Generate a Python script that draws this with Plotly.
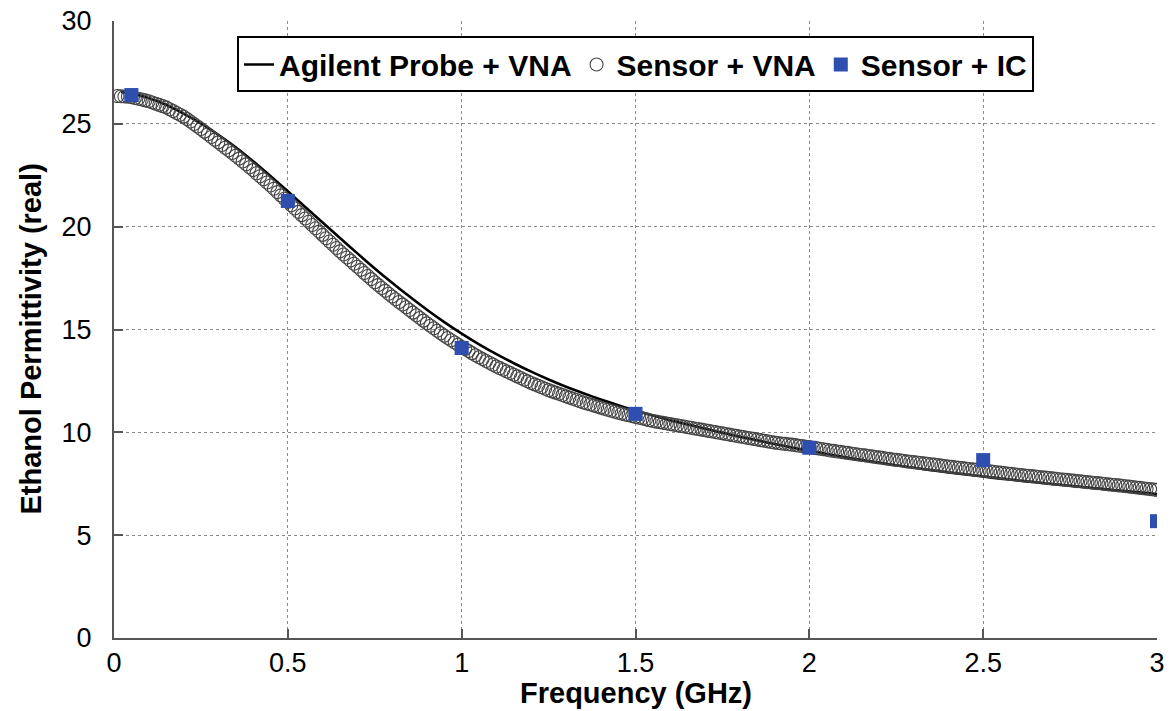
import numpy as np
import plotly.graph_objects as go

# ---------------- data ----------------
# Agilent probe + VNA (reference curve)
agilent_freq = [0.02, 0.05, 0.10, 0.15, 0.20, 0.25, 0.30, 0.35, 0.40, 0.45,
                0.50, 0.55, 0.60, 0.65, 0.70, 0.75, 0.80, 0.85, 0.90, 0.95,
                1.00, 1.05, 1.10, 1.15, 1.20, 1.25, 1.30, 1.35, 1.40, 1.45,
                1.50, 1.55, 1.60, 1.65, 1.70, 1.75, 1.80, 1.85, 1.90, 1.95,
                2.00, 2.05, 2.10, 2.15, 2.20, 2.25, 2.30, 2.35, 2.40, 2.45,
                2.50, 2.55, 2.60, 2.65, 2.70, 2.75, 2.80, 2.85, 2.90, 2.95, 3.00]
agilent_eps = [26.55, 26.48, 26.25, 25.92, 25.50, 25.02, 24.47, 23.86, 23.18, 22.46,
               21.72, 20.96, 20.20, 19.45, 18.70, 17.97, 17.27, 16.60, 15.96, 15.36,
               14.80, 14.28, 13.80, 13.36, 12.95, 12.57, 12.22, 11.90, 11.60, 11.32,
               11.06, 10.82, 10.59, 10.38, 10.18, 9.98, 9.79, 9.61, 9.43, 9.26,
               9.10, 8.95, 8.80, 8.66, 8.53, 8.40, 8.28, 8.16, 8.05, 7.95,
               7.85, 7.75, 7.66, 7.57, 7.48, 7.40, 7.32, 7.24, 7.16, 7.08, 7.00]

# Sensor + VNA (sweep 0.01 .. 3.00 GHz, 300 points)
sensor_vna_freq = np.round(np.linspace(0.01, 3.00, 300), 2)
sensor_vna_eps = [
    26.35, 26.34, 26.33, 26.32, 26.30, 26.26, 26.22, 26.18, 26.14, 26.10,
    26.04, 25.98, 25.92, 25.86, 25.80, 25.71, 25.62, 25.53, 25.44, 25.35,
    25.23, 25.11, 24.99, 24.87, 24.75, 24.62, 24.49, 24.36, 24.23, 24.10,
    23.97, 23.84, 23.71, 23.58, 23.45, 23.31, 23.17, 23.03, 22.89, 22.75,
    22.60, 22.45, 22.30, 22.15, 22.00, 21.84, 21.68, 21.52, 21.36, 21.20,
    21.04, 20.88, 20.72, 20.56, 20.40, 20.24, 20.08, 19.92, 19.76, 19.60,
    19.44, 19.28, 19.12, 18.96, 18.80, 18.65, 18.50, 18.35, 18.20, 18.05,
    17.90, 17.75, 17.60, 17.45, 17.30, 17.16, 17.02, 16.88, 16.74, 16.60,
    16.47, 16.34, 16.21, 16.08, 15.95, 15.82, 15.69, 15.56, 15.43, 15.30,
    15.18, 15.06, 14.94, 14.82, 14.70, 14.59, 14.48, 14.37, 14.26, 14.15,
    14.05, 13.95, 13.85, 13.75, 13.65, 13.56, 13.47, 13.38, 13.29, 13.20,
    13.12, 13.04, 12.96, 12.88, 12.80, 12.72, 12.64, 12.56, 12.48, 12.40,
    12.33, 12.26, 12.19, 12.12, 12.05, 11.99, 11.93, 11.87, 11.81, 11.75,
    11.69, 11.63, 11.57, 11.51, 11.45, 11.40, 11.35, 11.30, 11.25, 11.20,
    11.15, 11.10, 11.05, 11.00, 10.95, 10.91, 10.87, 10.83, 10.79, 10.75,
    10.71, 10.67, 10.63, 10.59, 10.55, 10.52, 10.49, 10.46, 10.43, 10.40,
    10.37, 10.34, 10.31, 10.28, 10.25, 10.22, 10.19, 10.16, 10.13, 10.10,
    10.07, 10.04, 10.01, 9.98, 9.95, 9.92, 9.89, 9.86, 9.83, 9.80,
    9.77, 9.74, 9.71, 9.68, 9.65, 9.62, 9.59, 9.56, 9.53, 9.50,
    9.48, 9.46, 9.44, 9.42, 9.40, 9.38, 9.35, 9.33, 9.30, 9.28,
    9.25, 9.23, 9.20, 9.18, 9.15, 9.12, 9.10, 9.07, 9.05, 9.02,
    9.00, 8.97, 8.95, 8.92, 8.90, 8.88, 8.85, 8.83, 8.80, 8.78,
    8.76, 8.73, 8.71, 8.68, 8.66, 8.64, 8.62, 8.59, 8.57, 8.55,
    8.53, 8.51, 8.49, 8.47, 8.45, 8.43, 8.41, 8.38, 8.36, 8.34,
    8.32, 8.30, 8.28, 8.26, 8.24, 8.22, 8.20, 8.18, 8.16, 8.14,
    8.12, 8.10, 8.08, 8.06, 8.04, 8.02, 8.00, 7.98, 7.96, 7.94,
    7.92, 7.90, 7.89, 7.87, 7.85, 7.83, 7.81, 7.80, 7.78, 7.76,
    7.74, 7.72, 7.71, 7.69, 7.67, 7.65, 7.63, 7.62, 7.60, 7.58,
    7.56, 7.54, 7.53, 7.51, 7.49, 7.47, 7.45, 7.44, 7.42, 7.40,
    7.38, 7.36, 7.34, 7.32, 7.30, 7.28, 7.26, 7.24, 7.22, 7.20,
]

# Sensor + IC
ic_freq = [0.05, 0.5, 1.0, 1.5, 2.0, 2.5, 3.0]
ic_eps = [26.4, 21.25, 14.1, 10.9, 9.25, 8.65, 5.68]

x_ticks = [0, 0.5, 1, 1.5, 2, 2.5, 3]
x_ticklabels = ["0", "0.5", "1", "1.5", "2", "2.5", "3"]
y_ticks = [0, 5, 10, 15, 20, 25, 30]

FONT = "Liberation Sans, Arial, sans-serif"

fig = go.Figure()
fig.add_trace(go.Scatter(
    x=agilent_freq, y=agilent_eps, mode="lines", name="Agilent Probe + VNA",
    line=dict(color="black", width=2.6, shape="spline", smoothing=0.6),
))
fig.add_trace(go.Scatter(
    x=sensor_vna_freq, y=sensor_vna_eps, mode="markers", name="Sensor + VNA",
    marker=dict(symbol="circle-open", size=13, color="#444444", line=dict(width=1.1)),
))
fig.add_trace(go.Scatter(
    x=ic_freq, y=ic_eps, mode="markers", name="Sensor + IC",
    marker=dict(symbol="square", size=14, color="#2f4fb0"),
))

axis_common = dict(
    showline=True, linecolor="#555555", linewidth=2,
    showgrid=True, gridcolor="#8a8a8a", gridwidth=1.2, griddash="dot",
    ticks="inside", ticklen=9, tickwidth=1.5, tickcolor="#555555",
    zeroline=False, mirror=False,
    tickfont=dict(family=FONT, size=27, color="black"),
)

fig.update_xaxes(range=[0, 3], tickvals=x_ticks, ticktext=x_ticklabels,
                 ticklabelstandoff=0, **axis_common)
fig.update_yaxes(range=[0, 30], tickvals=y_ticks, ticklabelstandoff=15, **axis_common)

fig.add_annotation(text="<b>Frequency (GHz)</b>", xref="paper", yref="paper",
                   x=0.5, y=0, yshift=-55, showarrow=False, yanchor="middle",
                   font=dict(family=FONT, size=29, color="black"))
fig.add_annotation(text="<b>Ethanol Permittivity (real)</b>", xref="paper", yref="paper",
                   x=0, y=0.5, xshift=-84, yshift=-10, showarrow=False, textangle=-90,
                   xanchor="center", yanchor="middle",
                   font=dict(family=FONT, size=29, color="black"))

fig.update_layout(
    width=1176, height=711,
    margin=dict(l=114, r=19, t=21, b=73, autoexpand=False),
    paper_bgcolor="white", plot_bgcolor="white",
    showlegend=True,
    legend=dict(
        orientation="h", x=0.5, xanchor="center", y=0.975, yanchor="top",
        bgcolor="white", bordercolor="black", borderwidth=2,
        font=dict(family=FONT, size=30, color="black", weight="bold"),
        itemwidth=30, tracegroupgap=0,
    ),
)

fig.write_html("out.html")
